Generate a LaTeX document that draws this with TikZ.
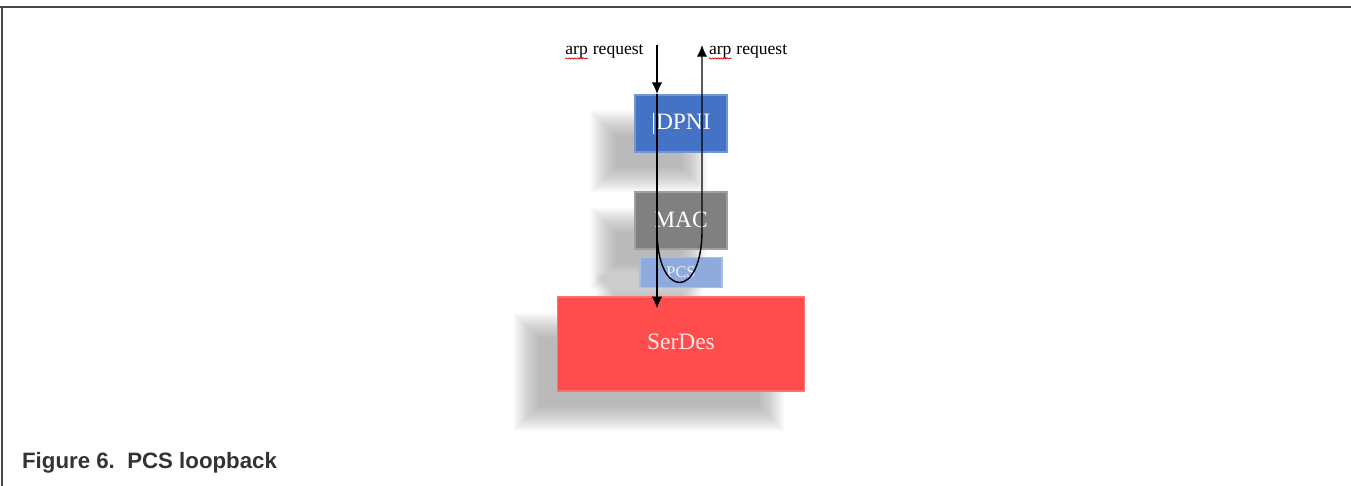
\documentclass[tikz,border=0pt]{standalone}
\usepackage{fontspec}
\setmainfont{Liberation Serif}
\newfontfamily\capfont{Liberation Sans}
\usetikzlibrary{positioning, arrows.meta, calc, decorations.pathmorphing}
\pgfdeclarelayer{background}
\pgfsetlayers{background,main}
\definecolor{dpniblue}{RGB}{68,114,196}
\definecolor{macgray}{RGB}{128,128,128}
\definecolor{pcsblue}{RGB}{143,170,220}
\definecolor{serdesred}{RGB}{255,77,77}
\definecolor{framegray}{RGB}{72,72,72}
\definecolor{captext}{RGB}{51,51,51}
\tikzset{
    x=0.03cm, y=-0.03cm, % one unit is one pixel of the layout
    block/.style={ % Sets the properties for each layer box
        rectangle,
        minimum width=2.76cm,
        minimum height=1.71cm,
        inner sep=0pt,
        line width=1.5pt,
        text=white,
        font=\fontsize{20}{24}\selectfont
    },
    lbl/.style={ % packet names
        inner sep=1pt,
        font=\fontsize{15}{17}\selectfont
    },
    flow/.style={ % Makes the packet path directed
        draw,
        line width=1.2pt,
        -{Latex[length=10pt,width=9pt]}
    },
}
% blurred shadow, shifted down left of a node
\newcommand\softshadow[1]{%
    \foreach \k in {-12,...,14}
        \fill[black, opacity=0.013]
            ($(#1.north west)+(-32+\k,28+\k)$) rectangle ($(#1.south east)+(-32-\k,28-\k)$);
}
% red spelling mark under a word
\newcommand\spellmark[1]{\tikz[baseline=(w.base)]{\node[inner sep=0pt] (w) {#1};
    \draw[red!80!black, line width=0.6pt, decorate,
          decoration={snake, amplitude=0.5pt, segment length=2.5pt}]
          (w.south west) -- (w.south east);}}

\begin{document}
\begin{tikzpicture}
    \useasboundingbox (0,0) rectangle (1351,486);
    \draw[framegray, line width=2.5pt] (0,7) -- (1351,7);
    \draw[framegray, line width=1.7pt] (2,7) -- (2,486);

    \node[block, fill=dpniblue, draw=dpniblue!75!white]     (dpni)   at (681,123.5) {|DPNI};
    \node[block, fill=macgray, draw=macgray!75!white, below=1.14cm of dpni] (mac) {MAC};
    \node[block, fill=pcsblue, draw=pcsblue!75!white, minimum width=2.46cm, minimum height=0.9cm,
          text=white!85!pcsblue, font=\fontsize{14}{16}\selectfont, below=0.21cm of mac] (pcs) {PCS};
    \node[block, fill=serdesred, draw=serdesred!80!white, minimum width=7.41cm, minimum height=2.82cm,
          text=white!90!red, below=0.24cm of pcs] (serdes) {\raisebox{5pt}{SerDes}};

    \begin{pgfonlayer}{background}
        \softshadow{dpni}
        \softshadow{mac}
        \softshadow{pcs}
        \softshadow{serdes}
    \end{pgfonlayer}

    \coordinate (rxtop)   at (657,45);
    \coordinate (txtop)   at (702,45);
    \coordinate (loopin)  at (657,230);
    \coordinate (loopout) at (702,230);

    \node[lbl, anchor=east] (arpin)  at (645,52) {\spellmark{arp} request};
    \node[lbl, anchor=west] (arpout) at (707,52) {\spellmark{arp} request};

    \draw[flow] (rxtop) -- (rxtop |- dpni.north);
    \draw[flow] (rxtop |- dpni.north) -- ($(rxtop |- serdes.north)+(0,12)$);
    \draw[flow] (loopin) .. controls +(0,70) and +(0,70) .. (loopout) -- (txtop);

    \node[anchor=west, text=captext, font=\capfont\bfseries\fontsize{19}{22}\selectfont]
        (caption) at (18,463) {Figure 6.\ \ PCS loopback};
\end{tikzpicture}
\end{document}
